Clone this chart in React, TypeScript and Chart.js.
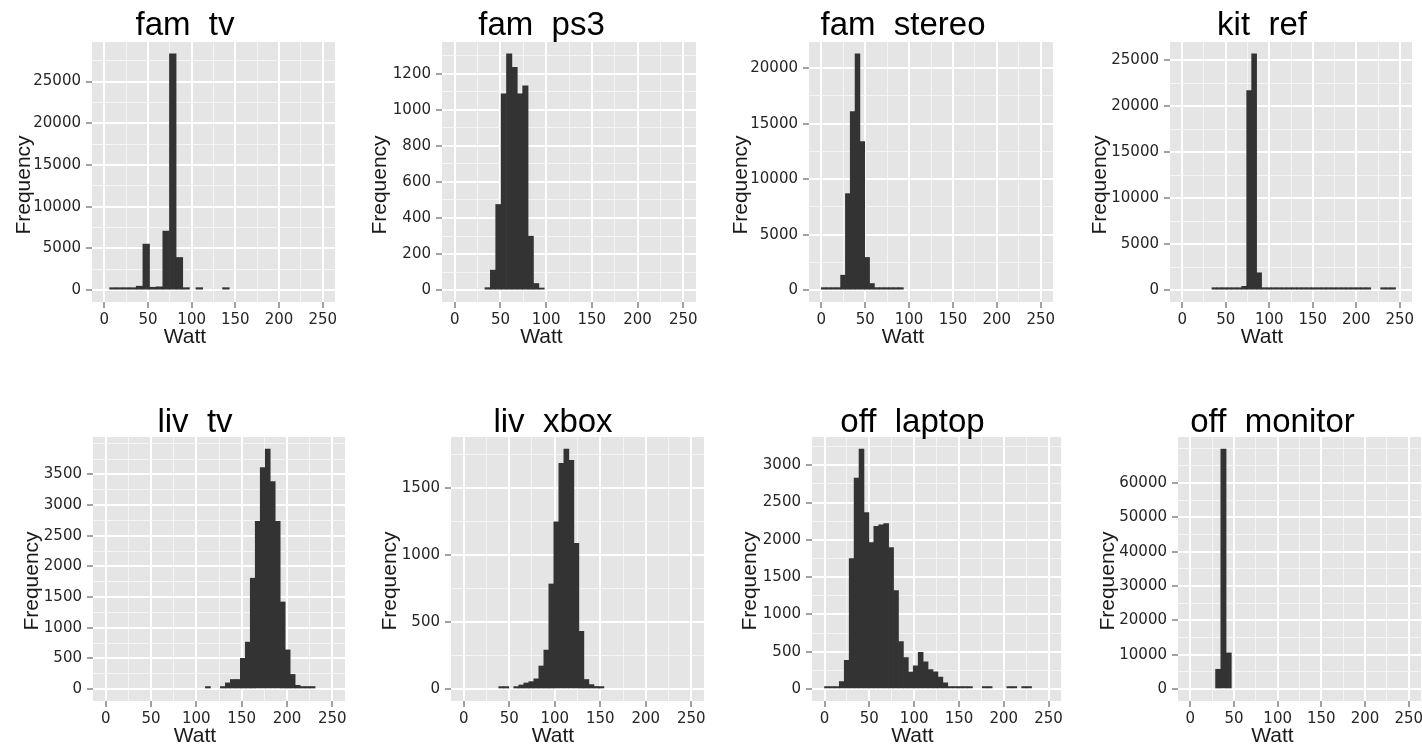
import React, { useEffect, useRef } from "react";
import { Chart, registerables } from "chart.js";

Chart.register(...registerables);

// ---------------- data ----------------
const panelTitles = ["fam  tv", "fam  ps3", "fam  stereo", "kit  ref", "liv  tv", "liv  xbox", "off  laptop", "off  monitor"];
const xAxisTitle = "Watt";
const yAxisTitle = "Frequency";

// histogram bins per appliance: left edge of the first bin (W), bin width (W), counts
const famTvBinStart = 6.2;
const famTvBinWidth = 7.6;
const famTvCounts = [300, 300, 300, 300, 480, 5520, 350, 400, 7080, 28320, 3920, 300, 0, 300, 0, 0, 0, 300];

const famPs3BinStart = 33;
const famPs3BinWidth = 5.9;
const famPs3Counts = [14, 111, 475, 1088, 1310, 1235, 1088, 1133, 299, 37, 12];

const famStereoBinStart = 0;
const famStereoBinWidth = 5.5;
const famStereoCounts = [230, 230, 230, 230, 1350, 8700, 16100, 21300, 13400, 2950, 600, 230, 230, 230, 230, 230, 230];

const kitRefBinStart = 34.2;
const kitRefBinWidth = 5.7;
const kitRefCounts = [
  270, 270, 270, 270, 270, 270, 420, 21700, 25700, 1890,
  270, 270, 270, 270, 270, 270, 270, 270, 270, 270, 270,
  270, 270, 270, 270, 270, 270, 270, 270, 270, 270, 270,
  0, 0, 270, 270, 270,
];

const livTvBinStart = 110;
const livTvBinWidth = 5.5;
const livTvCounts = [40, 0, 0, 40, 100, 155, 155, 500, 765, 1808, 2734, 3611, 3916, 3383, 2734, 1420, 638, 238, 60, 40, 40, 40];

const livXboxBinStart = 38.5;
const livXboxBinWidth = 5.5;
const livXboxCounts = [18, 18, 0, 18, 30, 45, 55, 76, 172, 291, 785, 1249, 1687, 1794, 1710, 1089, 431, 71, 33, 19, 18];

const offLaptopBinStart = 0;
const offLaptopBinWidth = 5.5;
const offLaptopCounts = [
  34, 34, 34, 100, 386, 1750, 2827, 3218, 2364, 1964,
  2182, 2200, 2218, 1895, 1318, 636, 420, 227, 309, 491,
  364, 260, 230, 159, 82, 34, 34, 34, 34, 34,
  0, 0, 34, 34, 0, 0, 0, 34, 34, 0, 34, 34,
];

const offMonitorBinStart = 29;
const offMonitorBinWidth = 6;
const offMonitorCounts = [5740, 69900, 10500];

// tick labels
const famTvYTicks = [0, 5000, 10000, 15000, 20000, 25000];
const famPs3YTicks = [0, 200, 400, 600, 800, 1000, 1200];
const famStereoYTicks = [0, 5000, 10000, 15000, 20000];
const kitRefYTicks = [0, 5000, 10000, 15000, 20000, 25000];
const livTvYTicks = [0, 500, 1000, 1500, 2000, 2500, 3000, 3500];
const livXboxYTicks = [0, 500, 1000, 1500];
const offLaptopYTicks = [0, 500, 1000, 1500, 2000, 2500, 3000];
const offMonitorYTicks = [0, 10000, 20000, 30000, 40000, 50000, 60000];
const wattTicks = [0, 50, 100, 150, 200, 250];
const wattMin = -14;
const wattMax = 264;

const binStarts = [famTvBinStart, famPs3BinStart, famStereoBinStart, kitRefBinStart, livTvBinStart, livXboxBinStart, offLaptopBinStart, offMonitorBinStart];
const binWidths = [famTvBinWidth, famPs3BinWidth, famStereoBinWidth, kitRefBinWidth, livTvBinWidth, livXboxBinWidth, offLaptopBinWidth, offMonitorBinWidth];
const binCounts = [famTvCounts, famPs3Counts, famStereoCounts, kitRefCounts, livTvCounts, livXboxCounts, offLaptopCounts, offMonitorCounts];
const yTicksAll = [famTvYTicks, famPs3YTicks, famStereoYTicks, kitRefYTicks, livTvYTicks, livXboxYTicks, offLaptopYTicks, offMonitorYTicks];

// ---------------- layout (page pixels) ----------------
const COL_L = [0, 355, 711, 1066];
const COL_R = [355, 711, 1066, 1440];
const ROW_T = [0, 380];
const ROW_B = [360, 750];
const PLOT_Y = [[42, 302], [437, 701]];
const PLOT_X = [[92, 335], [442, 696], [809, 1053], [1170, 1412], [93, 345], [451, 704], [812, 1064], [1178, 1421]];
const TITLE_X = [185, 541.5, 903, 1262, 195, 553, 912.5, 1272.5];
const TITLE_BASE = [35, 432];
const FREQ_X = [24, 380, 741, 1100, 32.5, 390, 750, 1108];
const FREQ_Y = [185, 581];
const WATT_BASE = [343, 742];
const Y_AXIS_W = 66;
const X_AXIS_H = 30;

const FONT = "'Liberation Sans', Arial, Helvetica, sans-serif";
const TICK_FONT = "'DejaVu Sans', Verdana, sans-serif";
const PANEL_BG = "#E5E5E5";
const BAR_COLOR = "#333333";
const MAJOR_GRID = "#FFFFFF";
const MINOR_GRID = "#F5F5F5";
const TICK_COLOR = "#444444";
const TICK_TEXT = "#262626";

// ggplot-like minor breaks: midpoints plus the extended breaks, filtered to the visible range
function withMinor(majors: number[], lo: number, hi: number) {
  const step = majors[1] - majors[0];
  const ext = [majors[0] - step, ...majors, majors[majors.length - 1] + step];
  const all: number[] = [...ext];
  for (let i = 0; i < ext.length - 1; i++) all.push((ext[i] + ext[i + 1]) / 2);
  return all.filter((v) => v >= lo && v <= hi).sort((a, b) => a - b);
}

const decorPlugin = {
  id: "panelDecor",
  beforeDraw(chart: any) {
    const { ctx, chartArea: a } = chart;
    ctx.save();
    ctx.fillStyle = PANEL_BG;
    ctx.fillRect(a.left, a.top, a.right - a.left, a.bottom - a.top);
    ctx.restore();
  },
  afterDraw(chart: any, _args: any, o: any) {
    const { ctx } = chart;
    ctx.save();
    ctx.fillStyle = "#000000";
    ctx.textAlign = "center";
    ctx.textBaseline = "alphabetic";
    ctx.font = `33px ${FONT}`;
    ctx.fillText(o.title, o.titleX, o.titleY);
    ctx.font = `21px ${FONT}`;
    ctx.fillStyle = "#1a1a1a";
    ctx.fillText(o.xTitle, o.titleX, o.wattY);
    ctx.translate(o.freqX, o.freqY);
    ctx.rotate(-Math.PI / 2);
    ctx.textBaseline = "middle";
    ctx.fillText(o.yTitle, 0, 0);
    ctx.restore();
  },
};

function Panel({ idx }: { idx: number }) {
  const ref = useRef<HTMLCanvasElement | null>(null);
  const row = idx < 4 ? 0 : 1;
  const col = idx % 4;
  const L = COL_L[col];
  const R = COL_R[col];
  const T = ROW_T[row];
  const B = ROW_B[row];
  const W = R - L;
  const H = B - T;

  useEffect(() => {
    if (!ref.current) return;
    const counts = binCounts[idx];
    const start = binStarts[idx];
    const bw = binWidths[idx];
    const data = counts.map((c, i) => ({ x: start + (i + 0.5) * bw, y: c }));
    const maxCount = Math.max(...counts);
    const yMin = -0.05 * maxCount;
    const yMax = 1.05 * maxCount;
    const yMajors = yTicksAll[idx];
    const yMajorSet = new Set(yMajors);
    const yAll = withMinor(yMajors, yMin, yMax);
    const xMajorSet = new Set(wattTicks);
    const xAll = withMinor(wattTicks, wattMin, wattMax);

    const [px0, px1] = PLOT_X[idx];
    const [py0, py1] = PLOT_Y[row];

    const chart = new Chart(ref.current, {
      type: "bar",
      data: {
        datasets: [
          {
            data,
            backgroundColor: (c: any) => (c.raw && c.raw.y === 0 ? "rgba(0,0,0,0)" : BAR_COLOR),
            borderWidth: 0,
            barPercentage: 1,
            categoryPercentage: 1,
          } as any,
        ],
      },
      options: {
        animation: false,
        responsive: false,
        maintainAspectRatio: false,
        devicePixelRatio: 1,
        events: [],
        layout: {
          padding: {
            left: px0 - L - Y_AXIS_W,
            right: R - px1,
            top: py0 - T,
            bottom: B - py1 - X_AXIS_H,
          },
        },
        plugins: {
          legend: { display: false },
          title: { display: false },
          tooltip: { enabled: false },
          panelDecor: {
            title: panelTitles[idx],
            titleX: TITLE_X[idx] - L,
            titleY: TITLE_BASE[row] - T,
            xTitle: xAxisTitle,
            yTitle: yAxisTitle,
            wattY: WATT_BASE[row] - T,
            freqX: FREQ_X[idx] - L,
            freqY: FREQ_Y[row] - T,
          },
        } as any,
        scales: {
          x: {
            type: "linear",
            min: wattMin,
            max: wattMax,
            offset: false,
            afterBuildTicks: (s: any) => {
              s.ticks = xAll.map((v) => ({ value: v }));
            },
            afterFit: (s: any) => {
              s.height = X_AXIS_H;
            },
            border: { display: false },
            grid: {
              offset: false,
              color: (c: any) => (xMajorSet.has(c.tick.value) ? MAJOR_GRID : MINOR_GRID),
              lineWidth: (c: any) => (xMajorSet.has(c.tick.value) ? 2 : 1),
              tickColor: (c: any) => (xMajorSet.has(c.tick.value) ? TICK_COLOR : "rgba(0,0,0,0)"),
              tickWidth: 1,
              tickLength: 6,
            },
            ticks: {
              autoSkip: false,
              maxRotation: 0,
              minRotation: 0,
              padding: 3,
              color: TICK_TEXT,
              font: { family: TICK_FONT, size: 15 },
              callback: (v: any) => (xMajorSet.has(Number(v)) ? String(v) : ""),
            },
          },
          y: {
            type: "linear",
            min: yMin,
            max: yMax,
            afterBuildTicks: (s: any) => {
              s.ticks = yAll.map((v) => ({ value: v }));
            },
            afterFit: (s: any) => {
              s.width = Y_AXIS_W;
            },
            border: { display: false },
            grid: {
              color: (c: any) => (yMajorSet.has(c.tick.value) ? MAJOR_GRID : MINOR_GRID),
              lineWidth: (c: any) => (yMajorSet.has(c.tick.value) ? 2 : 1),
              tickColor: (c: any) => (yMajorSet.has(c.tick.value) ? TICK_COLOR : "rgba(0,0,0,0)"),
              tickWidth: 1,
              tickLength: 6,
            },
            ticks: {
              autoSkip: false,
              padding: 5,
              color: TICK_TEXT,
              font: { family: TICK_FONT, size: 15 },
              callback: (v: any) => (yMajorSet.has(Number(v)) ? String(v) : ""),
            },
          },
        },
      },
      plugins: [decorPlugin as any],
    });
    return () => chart.destroy();
  }, [idx]);

  return (
    <canvas
      ref={ref}
      width={W}
      height={H}
      style={{ position: "absolute", left: L, top: T, width: `${W}px`, height: `${H}px` }}
    />
  );
}

export default function App() {
  return (
    <div
      style={{
        position: "absolute",
        left: 0,
        top: 0,
        width: 1422,
        height: 750,
        overflow: "hidden",
        background: "#FFFFFF",
      }}
    >
      {panelTitles.map((_, i) => (
        <Panel key={i} idx={i} />
      ))}
    </div>
  );
}
